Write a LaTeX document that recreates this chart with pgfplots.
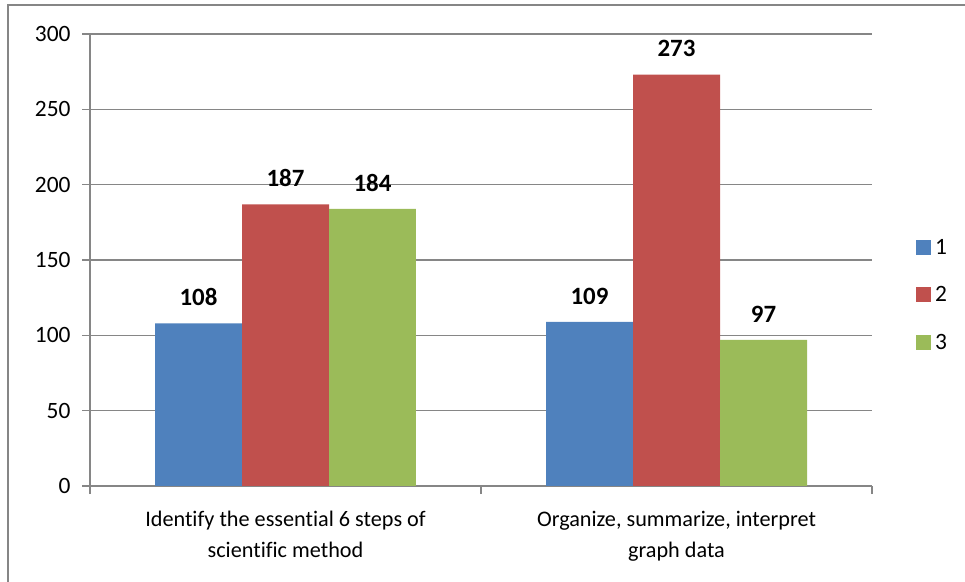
\documentclass[border=0pt]{standalone}
\usepackage{pgfplots}
\pgfplotsset{compat=1.18}
\usepackage{fontspec}
\setmainfont{Carlito}[Ligatures=CommonOff]
\definecolor{xlblue}{RGB}{79,129,189}
\definecolor{xlred}{RGB}{192,80,77}
\definecolor{xlgreen}{RGB}{155,187,89}
\definecolor{xlgrid}{RGB}{134,134,134}
\begin{document}
\begin{tikzpicture}
\path[use as bounding box] (0,0) rectangle (965bp,582bp);
\draw[xlgrid, line width=1.3bp] (8bp,0) -- (8bp,577bp) -- (965bp,577bp);
\begin{axis}[
    at={(90bp,96bp)}, anchor=south west,
    scale only axis,
    width=782bp, height=452bp,
    ybar=0pt, bar width=0.2225,
    xmin=-0.5, xmax=1.5,
    ymin=0, ymax=300,
    ytick distance=50,
    xtick={0,1},
    xticklabels={{Identify the essential 6 steps of\\scientific method},{Organize, summarize, interpret\\graph data}},
    minor xtick={-0.5,0.5,1.5},
    axis x line*=bottom, axis y line*=left,
    axis line style={-, xlgrid, line width=1.3bp},
    ymajorgrids=true,
    major grid style={xlgrid, line width=1.3bp},
    tick align=outside,
    major tick length=8bp, minor tick length=8bp,
    major x tick style={draw=none},
    every tick/.style={xlgrid, line width=1.3bp},
    /pgf/number format/assume math mode=true,
    tick label style={font=\fontsize{23.5}{23.5}\selectfont, black},
    yticklabel style={xshift=-8bp},
    xticklabel style={align=center, font=\fontsize{22.3}{31}\selectfont, yshift=-14bp},
    nodes near coords,
    every node near coord/.append style={font=\bfseries\fontsize{25}{25}\selectfont, black, yshift=14bp},
    legend style={draw=none, fill=none, at={(1.056,0.4226)}, anchor=west,
        font=\fontsize{23.5}{23.5}\selectfont, row sep=27bp, inner sep=0pt,
        nodes={inner xsep=4bp}},
    legend cell align=left,
    legend image code/.code={\path[#1, draw=none] (0bp,-7.5bp) rectangle (15bp,7.5bp);},
]
\addplot[fill=xlblue, draw=none] coordinates {(0,108) (1,109)};
\addlegendentry{1}
\addplot[fill=xlred, draw=none] coordinates {(0,187) (1,273)};
\addlegendentry{2}
\addplot[fill=xlgreen, draw=none] coordinates {(0,184) (1,97)};
\addlegendentry{3}
\end{axis}
\end{tikzpicture}
\end{document}
